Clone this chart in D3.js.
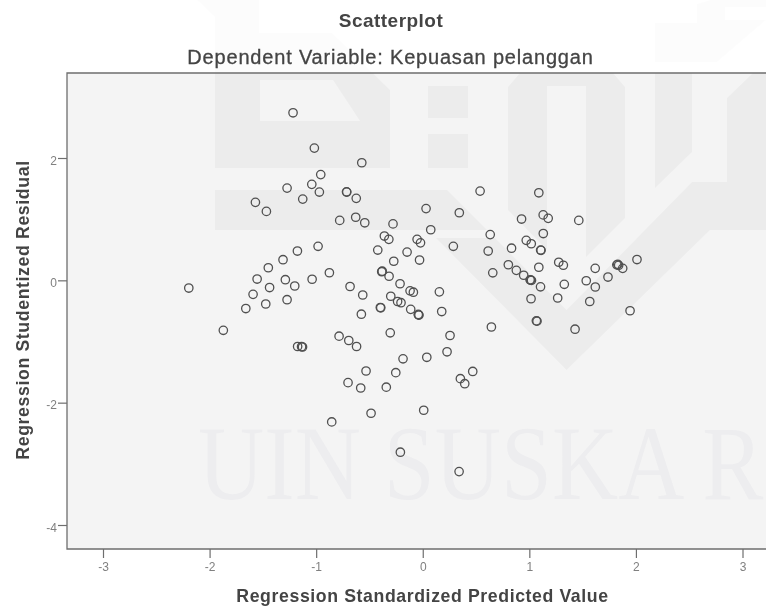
<!DOCTYPE html>
<html>
<head>
<meta charset="utf-8">
<script src="https://cdn.jsdelivr.net/npm/d3@7"></script>
<style>
  html, body { margin: 0; padding: 0; background: #fff; }
  svg { display: block; filter: blur(0.35px); }
  text { font-family: "Liberation Sans", Arial, sans-serif; }
</style>
</head>
<body>
<div id="wrapper"></div>
<script>
// values, one entry per case
const predicted = [
  -1.217, -1.017, -0.572, -0.957, -1.041, -0.970, -1.273, -1.126, -1.570, -1.467,
  -0.713, -0.715, -0.624, -0.779, -0.629, -0.544, -0.982, -1.176, -1.311, -1.449,
  -1.554, -1.289, -1.038, -0.876, -1.437, -1.201, -1.592, -2.195, -1.273, -0.682,
  -0.563, -1.871, -1.660, -1.473, -1.174, -1.137, -1.128, -0.576, -0.394, -0.398,
  -0.785, -0.694, -0.621, -0.532, -0.701, -0.582, -0.485, -0.854, -0.342, -0.279,
  0.031, 0.075, -0.360, -0.318, -0.053, -0.021, -0.422, -0.147, -0.272, -0.030,
  -0.385, -0.380, -0.316, -0.213, -0.119, -0.088, 0.156, -0.300, -0.236, -0.204,
  -0.113, -0.039, -0.042, -0.036, 0.178, -0.305, 0.256, 0.228, 0.038, -0.185,
  -0.253, 0.469, 0.353, 0.394, 0.009, -0.210, 0.341, 0.343, 0.287, 0.538,
  1.089, 0.927, 1.130, 1.177, 1.464, 0.633, 1.131, 0.614, 0.833, 0.971,
  1.018, 1.110, 1.106, 0.803, 0.878, 0.947, 1.007, 1.020, 1.012, 1.089,
  0.657, 1.105, 1.276, 1.319, 1.328, 1.618, 1.534, 1.619, 1.738, 1.821,
  1.830, 1.838, 1.876, 2.010, 1.016, 1.266, 1.567, 1.945, 1.066, 1.072,
  0.644, 1.429
]
const residual = [
  2.739, 2.162, 1.922, 1.729, 1.569, 1.443, 1.508, 1.328, 1.275, 1.127,
  1.443, 1.447, 1.340, 0.980, 1.031, 0.941, 0.556, 0.479, 0.337, 0.206,
  0.021, 0.010, 0.018, 0.124, -0.118, -0.093, -0.229, -0.126, -0.317, -0.101,
  -0.240, -0.817, -0.461, -0.387, -1.082, -1.085, -1.090, -0.554, -0.449, -0.444,
  -0.913, -0.984, -1.082, -1.482, -1.673, -1.760, -2.173, -2.315, -1.747, 0.923,
  1.173, 0.827, 0.724, 0.670, 0.670, 0.613, 0.495, 0.462, 0.312, 0.332,
  0.141, 0.149, 0.067, -0.056, -0.172, -0.194, -0.188, -0.260, -0.346, -0.366,
  -0.474, -0.564, -0.558, -0.569, -0.510, -0.858, -0.902, -1.168, -1.258, -1.283,
  -1.510, -1.490, -1.608, -1.690, -2.124, -2.810, -3.127, 1.105, 0.556, 1.459,
  1.431, 1.002, 1.070, 1.013, 0.980, 0.748, 0.765, 0.479, 0.525, 0.654,
  0.598, 0.490, 0.495, 0.255, 0.163, 0.083, 0.008, 0.000, 0.004, 0.214,
  0.123, -0.106, 0.296, 0.247, -0.065, 0.196, -0.007, -0.109, 0.054, 0.253,
  0.262, 0.245, 0.196, 0.340, -0.301, -0.289, -0.346, -0.497, -0.662, -0.668,
  -0.763, -0.799
]
const xTicks = [-3, -2, -1, 0, 1, 2, 3]
const yTicks = [2, 0, -2, -4]

const titleText = "Scatterplot"
const subtitleText = "Dependent Variable: Kepuasan pelanggan"
const xLabelText = "Regression Standardized Predicted Value"
const yLabelText = "Regression Studentized Residual"

// the university logo that shows through the scan, page pixels
const watermarkShapes = [
  [[197,0],[259,0],[259,33],[332,33],[390,90],[390,168],[215,168],[215,17]],
  [[215,190],[447,190],[487,230],[215,230]],
  [[436,238],[495,238],[566.5,310],[692,182],[766,182],[766,230],[710,230],[566.5,370]],
  [[428,86],[468,86],[468,118],[428,118]],
  [[428,134],[468,134],[468,168],[428,168]],
  [[508,210],[508,87],[520,73],[613,73],[625,87],[625,218],[586,257],[586,86],[547,86],[547,250]],
  [[655,23],[697,23],[697,4],[710,0],[766,0],[766,7],[725,7],[725,20],[766,20],[717,62],[655,62]],
  [[655,73],[692,73],[692,152],[655,188]],
  [[727,98],[753,73],[766,73],[766,182],[727,182]]
]
const watermarkHole = [[260,80],[333,80],[360,121],[260,121]]

const dimensions = {
  width: 766,
  height: 607,
  plotLeft: 67,
  plotTop: 73,
  plotBottom: 549,
}

const wrapper = d3.select("#wrapper")
  .append("svg")
  .attr("width", dimensions.width)
  .attr("height", dimensions.height)

// plot background runs off the right side of the picture
wrapper.append("rect")
  .attr("x", dimensions.plotLeft)
  .attr("y", dimensions.plotTop)
  .attr("width", dimensions.width - dimensions.plotLeft + 10)
  .attr("height", dimensions.plotBottom - dimensions.plotTop)
  .attr("fill", "#f4f4f4")

// watermark sits under the marks
const watermark = wrapper.append("g").attr("fill", "#000").attr("fill-opacity", 0.03)
const shapePath = d3.line()
watermark.selectAll("path")
  .data(watermarkShapes)
  .join("path")
  .attr("fill-rule", "evenodd")
  .attr("d", function(d, i) {
    return shapePath(d) + "Z" + (i === 0 ? shapePath(watermarkHole) + "Z" : "")
  })

// logo is much fainter on the white part above the plot
wrapper.append("rect")
  .attr("width", dimensions.width)
  .attr("height", dimensions.plotTop)
  .attr("fill", "#fff")
  .attr("fill-opacity", 0.6)

wrapper.append("text")
  .attr("transform", "translate(198,499) scale(0.865,1)")
  .style("font-family", '"Liberation Serif", serif')
  .style("font-size", "106px")
  .attr("fill", "#3c3c78")
  .attr("fill-opacity", 0.035)
  .text("UIN SUSKA R")

const xScale = d3.scaleLinear().domain([-3, 3]).range([103, 742.5])
const yScale = d3.scaleLinear().domain([2, -4]).range([158, 525])

// frame: top, left and bottom lines only, the right side is cut off
const frameColor = "#6e6e6e"
wrapper.append("path")
  .attr("d", d3.line()([
    [dimensions.width + 5, dimensions.plotTop],
    [dimensions.plotLeft, dimensions.plotTop],
    [dimensions.plotLeft, dimensions.plotBottom],
    [dimensions.width + 5, dimensions.plotBottom],
  ]))
  .attr("fill", "none")
  .attr("stroke", frameColor)
  .attr("stroke-width", 1.3)

const tickFormat = function(d) { return String(d) } // plain hyphen, no decimals
const xAxis = d3.axisBottom(xScale).tickValues(xTicks).tickFormat(tickFormat).tickSize(9).tickPadding(4)
const yAxis = d3.axisLeft(yScale).tickValues(yTicks).tickFormat(tickFormat).tickSize(9).tickPadding(1)

const xAxisGroup = wrapper.append("g")
  .attr("transform", `translate(0, ${dimensions.plotBottom})`)
  .call(xAxis)
const yAxisGroup = wrapper.append("g")
  .attr("transform", `translate(${dimensions.plotLeft}, 0)`)
  .call(yAxis)

wrapper.selectAll(".domain").remove()
wrapper.selectAll(".tick line").attr("stroke", frameColor).attr("stroke-width", 1.2)
wrapper.selectAll(".tick text")
  .attr("fill", "#808080")
  .style("font-family", '"Liberation Sans", Arial, sans-serif')
  .style("font-size", "12px")
yAxisGroup.selectAll(".tick text").attr("dy", "0.5em")

// points
wrapper.append("g")
  .selectAll("circle")
  .data(predicted)
  .join("circle")
  .attr("cx", function(d) { return xScale(d) })
  .attr("cy", function(d, i) { return yScale(residual[i]) })
  .attr("r", 4.2)
  .attr("fill", "none")
  .attr("stroke", "#505050")
  .attr("stroke-width", 1.3)

// titles
wrapper.append("text")
  .attr("x", 391)
  .attr("y", 26.5)
  .attr("text-anchor", "middle")
  .attr("fill", "#444")
  .style("font-size", "19px")
  .style("letter-spacing", "0.47px")
  .style("font-weight", "bold")
  .text(titleText)

wrapper.append("text")
  .attr("x", 390.5)
  .attr("y", 64)
  .attr("text-anchor", "middle")
  .attr("fill", "#444")
  .attr("stroke", "#444")
  .attr("stroke-width", 0.3)
  .style("font-size", "20px")
  .style("letter-spacing", "0.81px")
  .text(subtitleText)

wrapper.append("text")
  .attr("x", 422.5)
  .attr("y", 602)
  .attr("text-anchor", "middle")
  .attr("fill", "#444")
  .style("font-size", "17.7px")
  .style("letter-spacing", "0.6px")
  .style("font-weight", "bold")
  .text(xLabelText)

wrapper.append("text")
  .attr("transform", "translate(28.5, 310) rotate(-90)")
  .attr("text-anchor", "middle")
  .attr("fill", "#444")
  .style("font-size", "17.7px")
  .style("letter-spacing", "0.62px")
  .style("font-weight", "bold")
  .text(yLabelText)
</script>
</body>
</html>
